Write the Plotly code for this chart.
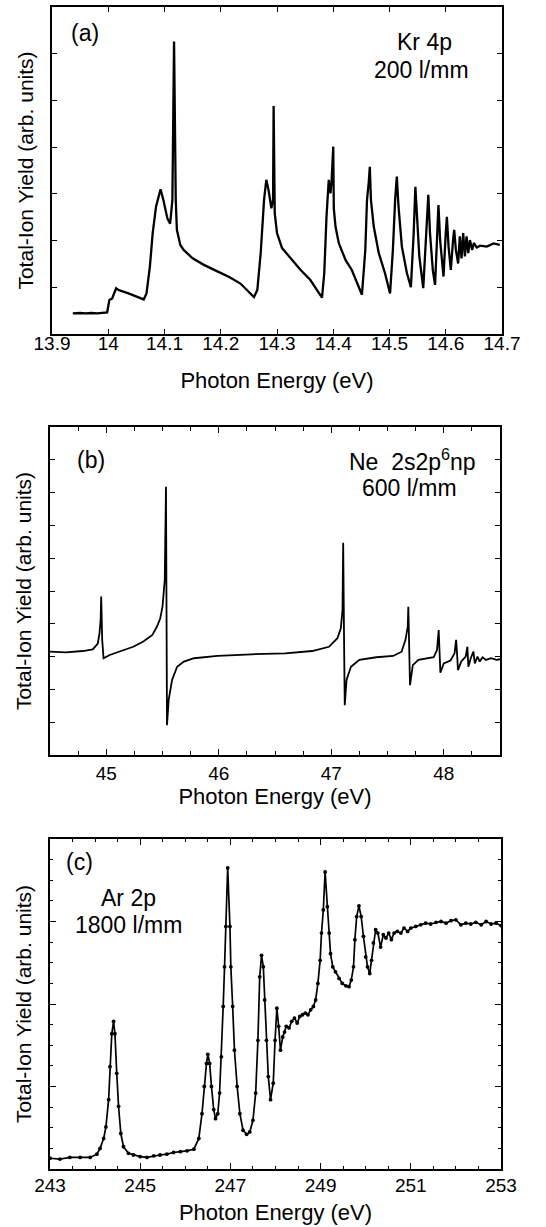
import plotly.graph_objects as go

# ---------------- data ----------------
kr_energy = [13.937, 13.95, 13.96, 13.97, 13.98, 13.99, 13.998,
             14.002, 14.007, 14.014, 14.019, 14.036, 14.053, 14.063,
             14.068, 14.074, 14.079, 14.085, 14.093, 14.098, 14.105, 14.110, 14.114, 14.117, 14.120,
             14.122, 14.128, 14.134, 14.150, 14.170, 14.194, 14.215, 14.235, 14.250, 14.259,
             14.265, 14.271, 14.277, 14.281, 14.285, 14.290, 14.293, 14.294, 14.296, 14.300,
             14.309, 14.324, 14.342, 14.359, 14.374, 14.380,
             14.384, 14.388, 14.392, 14.395, 14.397, 14.400, 14.401, 14.404, 14.410, 14.422,
             14.433, 14.442, 14.451,
             14.457, 14.460, 14.463, 14.465, 14.467, 14.472, 14.481, 14.492, 14.501,
             14.506, 14.510, 14.513, 14.516, 14.522, 14.531, 14.538,
             14.543, 14.546, 14.549, 14.553, 14.560,
             14.565, 14.569, 14.572, 14.577, 14.581,
             14.585, 14.587, 14.590, 14.596,
             14.600, 14.602, 14.605, 14.609,
             14.613, 14.615, 14.618, 14.622,
             14.625, 14.628, 14.631, 14.634, 14.637, 14.640, 14.643, 14.647, 14.650,
             14.655, 14.661, 14.673, 14.685, 14.696]
kr_yield = [0.44, 0.45, 0.44, 0.45, 0.44, 0.45, 0.46,
            0.73, 0.76, 0.98, 0.94, 0.87, 0.78, 0.74,
            0.87, 1.44, 2.16, 2.73, 3.10, 2.87, 2.48, 2.36, 2.87, 6.26, 2.87,
            2.23, 1.91, 1.80, 1.62, 1.48, 1.34, 1.22, 1.08, 0.90, 0.79,
            0.94, 1.73, 2.87, 3.30, 3.08, 2.69, 2.87, 4.88, 2.58, 2.16,
            1.84, 1.62, 1.37, 1.16, 0.87, 0.78,
            1.30, 2.51, 3.30, 3.01, 3.26, 4.01, 2.69, 2.30, 1.94, 1.58,
            1.37, 1.09, 0.84,
            1.80, 2.87, 3.23, 3.58, 2.87, 2.30, 1.73, 1.30, 0.87,
            1.80, 2.87, 3.37, 2.73, 1.87, 1.30, 1.00,
            2.16, 3.15, 2.51, 1.66, 0.98,
            2.16, 2.98, 2.16, 1.37, 1.05,
            2.01, 2.76, 2.01, 1.23,
            2.16, 2.51, 1.87, 1.37,
            2.01, 2.23, 1.80, 1.51,
            2.09, 1.62, 2.16, 1.66, 2.09, 1.73, 2.01, 1.80, 1.95,
            1.85, 1.89, 1.87, 1.94, 1.91]

ne_energy = [44.50, 44.64, 44.79, 44.88, 44.925, 44.94, 44.95, 44.955, 44.964, 44.976,
             45.03, 45.12, 45.24, 45.33, 45.41, 45.45, 45.48, 45.50, 45.52, 45.531,
             45.54, 45.555, 45.585, 45.63, 45.69, 45.78, 45.99, 46.29, 46.59, 46.83,
             46.98, 47.055, 47.085, 47.10, 47.106, 47.115, 47.12, 47.136, 47.175, 47.25,
             47.40, 47.55, 47.625, 47.66, 47.68, 47.685, 47.694, 47.70, 47.725, 47.775,
             47.91, 47.94, 47.955, 47.964, 47.97, 48.00, 48.06, 48.096, 48.11, 48.12,
             48.126, 48.156, 48.195, 48.21, 48.219, 48.24, 48.264, 48.276, 48.30, 48.32,
             48.345, 48.375, 48.42, 48.47, 48.50]
ne_yield = [3.15, 3.13, 3.17, 3.22, 3.40, 3.71, 4.12, 4.83, 3.51, 2.95,
            3.05, 3.15, 3.30, 3.46, 3.66, 3.91, 4.17, 4.52, 5.34, 8.18,
            0.91, 1.68, 2.29, 2.69, 2.85, 2.95, 3.02, 3.07, 3.10, 3.17,
            3.30, 3.56, 3.86, 4.42, 6.47, 3.10, 1.52, 2.29, 2.69, 2.90,
            2.98, 3.02, 3.15, 3.51, 3.91, 4.52, 3.10, 2.13, 2.74, 2.90,
            2.98, 3.20, 3.81, 3.00, 2.51, 2.79, 2.88, 3.10, 3.51, 3.00,
            2.59, 2.85, 3.00, 3.30, 2.69, 2.95, 3.15, 2.79, 3.00, 2.85,
            2.98, 2.90, 2.95, 2.90, 2.92]

ar_energy = [243.00, 243.22, 243.44, 243.67, 243.89, 244.04, 244.11, 244.19, 244.24, 244.30,
             244.33, 244.37, 244.41, 244.44, 244.48, 244.52, 244.57, 244.63, 244.74, 244.85,
             245.00, 245.15, 245.30, 245.44, 245.59, 245.74, 245.89, 246.04, 246.19, 246.30,
             246.37, 246.42, 246.47, 246.50, 246.54, 246.58, 246.63, 246.67, 246.72, 246.76,
             246.80, 246.84, 246.87, 246.90, 246.94, 246.99, 247.01, 247.05, 247.09, 247.15,
             247.21, 247.28, 247.36, 247.43, 247.50, 247.56, 247.61, 247.65, 247.69, 247.73,
             247.76, 247.80, 247.84, 247.89, 247.95, 247.99, 248.03, 248.07, 248.11, 248.16,
             248.20, 248.24, 248.30, 248.36, 248.42, 248.48, 248.54, 248.60, 248.66, 248.72,
             248.78, 248.84, 248.89, 248.94, 248.99, 249.02, 249.06, 249.10, 249.15, 249.19,
             249.22, 249.27, 249.33, 249.41, 249.48, 249.56, 249.63, 249.68, 249.73, 249.76,
             249.80, 249.85, 249.90, 249.95, 250.00, 250.04, 250.09, 250.13, 250.17, 250.22,
             250.27, 250.33, 250.39, 250.45, 250.51, 250.57, 250.63, 250.70, 250.78, 250.85,
             250.93, 251.00, 251.11, 251.22, 251.33, 251.44, 251.56, 251.67, 251.78, 251.89,
             252.00, 252.11, 252.22, 252.33, 252.44, 252.56, 252.67, 252.78, 252.89, 253.00]
ar_yield = [0.13, 0.12, 0.14, 0.14, 0.14, 0.18, 0.25, 0.37, 0.51, 0.84,
            1.24, 1.64, 1.79, 1.64, 1.16, 0.76, 0.43, 0.27, 0.19, 0.17,
            0.15, 0.14, 0.16, 0.17, 0.18, 0.20, 0.21, 0.22, 0.24, 0.37,
            0.67, 1.00, 1.28, 1.39, 1.28, 1.00, 0.72, 0.61, 0.67, 0.92,
            1.36, 1.97, 2.45, 2.94, 3.65, 2.94, 2.45, 1.97, 1.44, 1.00,
            0.67, 0.47, 0.42, 0.45, 0.59, 0.92, 1.56, 2.33, 2.59, 2.45,
            2.05, 1.56, 1.12, 0.84, 1.04, 1.56, 1.95, 1.73, 1.44, 1.60,
            1.66, 1.73, 1.71, 1.79, 1.83, 1.77, 1.85, 1.87, 1.89, 1.87,
            1.93, 1.97, 2.05, 2.25, 2.53, 2.86, 3.14, 3.60, 3.18, 2.86,
            2.61, 2.45, 2.39, 2.31, 2.25, 2.22, 2.21, 2.29, 2.45, 2.78,
            3.06, 3.19, 3.06, 2.82, 2.57, 2.45, 2.37, 2.53, 2.74, 2.90,
            2.86, 2.69, 2.84, 2.80, 2.86, 2.78, 2.86, 2.88, 2.86, 2.92,
            2.88, 2.92, 2.94, 2.96, 2.98, 2.97, 2.99, 3.00, 2.98, 3.01,
            3.02, 2.96, 2.98, 2.97, 2.99, 2.96, 3.00, 2.97, 2.98, 2.95]

# tick values / labels
kr_xticks = [13.9, 14.0, 14.1, 14.2, 14.3, 14.4, 14.5, 14.6, 14.7]
kr_xlabels = ["13.9", "14", "14.1", "14.2", "14.3", "14.4", "14.5", "14.6", "14.7"]
kr_yticks = [1, 2, 3, 4, 5, 6]
ne_xticks = [45, 46, 47, 48]
ne_xlabels = ["45", "46", "47", "48"]
ne_yticks = [1, 2, 3, 4, 5, 6, 7, 8, 9]
ar_xticks = [243, 245, 247, 249, 251, 253]
ar_xlabels = ["243", "245", "247", "249", "251", "253"]
ar_yticks = [1, 2, 3]

# ---------------- layout helpers ----------------
W, H = 546, 1227
FONT = "Liberation Sans, Arial, sans-serif"


def fx(p):
    return p / W


def fy(p):
    return 1 - p / H


axis_common = dict(showline=True, linecolor="black", linewidth=1.5, mirror="allticks",
                   ticks="inside", tickcolor="black", tickwidth=1.3, showgrid=False,
                   zeroline=False, automargin=False,
                   tickfont=dict(size=19, color="black", family=FONT))
xtitle_font = dict(size=22, color="black", family=FONT)
ytitle_font = dict(size=21, color="black", family=FONT)
YTITLE = "Total-Ion Yield (arb. units)"
XTITLE = "Photon Energy (eV)"

fig = go.Figure()
fig.add_trace(go.Scatter(x=kr_energy, y=kr_yield, mode="lines",
                         line=dict(color="black", width=2.3), xaxis="x", yaxis="y",
                         showlegend=False))
fig.add_trace(go.Scatter(x=ne_energy, y=ne_yield, mode="lines",
                         line=dict(color="black", width=1.8), xaxis="x2", yaxis="y2",
                         showlegend=False))
fig.add_trace(go.Scatter(x=ar_energy, y=ar_yield, mode="lines+markers",
                         line=dict(color="black", width=1.7),
                         marker=dict(size=3.8, color="black"), xaxis="x3", yaxis="y3",
                         showlegend=False))

fig.update_layout(
    width=W, height=H, margin=dict(l=0, r=0, t=0, b=0),
    paper_bgcolor="white", plot_bgcolor="white",
    font=dict(family=FONT, color="black"),
    xaxis=dict(axis_common, domain=[fx(52), fx(502)], range=[13.9, 14.7], anchor="y",
               tickmode="array", tickvals=kr_xticks, ticktext=kr_xlabels, ticklen=5,
               ticklabelstandoff=-9,
               title=dict(text=XTITLE, font=xtitle_font, standoff=20)),
    yaxis=dict(axis_common, domain=[fy(334), fy(7)], range=[0, 7], anchor="x",
               tickmode="array", tickvals=kr_yticks, showticklabels=False, ticklen=5,
               title=dict(text=YTITLE, font=ytitle_font, standoff=11)),
    xaxis2=dict(axis_common, domain=[fx(50), fx(500)], range=[44.5, 48.5], anchor="y2",
                tickmode="array", tickvals=ne_xticks, ticktext=ne_xlabels, ticklen=6,
                ticklabelstandoff=0,
                minor=dict(ticks="inside", tickmode="linear", tick0=44.5, dtick=0.25,
                           ticklen=4, tickcolor="black", tickwidth=1.2),
                title=dict(text=XTITLE, font=xtitle_font, standoff=6)),
    yaxis2=dict(axis_common, domain=[fy(755), fy(427)], range=[0, 10], anchor="x2",
                tickmode="array", tickvals=ne_yticks, showticklabels=False, ticklen=5,
                title=dict(text=YTITLE, font=ytitle_font, standoff=11)),
    xaxis3=dict(axis_common, domain=[fx(50), fx(501)], range=[243, 253], anchor="y3",
                tickmode="array", tickvals=ar_xticks, ticktext=ar_xlabels, ticklen=6,
                ticklabelstandoff=-2,
                minor=dict(ticks="inside", tickmode="linear", tick0=243, dtick=0.5,
                           ticklen=3, tickcolor="black", tickwidth=1.2),
                title=dict(text=XTITLE, font=xtitle_font, standoff=10)),
    yaxis3=dict(axis_common, domain=[fy(1169), fy(839)], range=[0, 4], anchor="x3",
                tickmode="array", tickvals=ar_yticks, showticklabels=False, ticklen=6,
                minor=dict(ticks="inside", tickmode="linear", tick0=0, dtick=0.25,
                           ticklen=3, tickcolor="black", tickwidth=1.2),
                title=dict(text=YTITLE, font=ytitle_font, standoff=11)),
)

ann_font = dict(size=23, color="black", family=FONT)
annotations = [
    dict(text="(a)", x=fx(69), y=fy(33), xanchor="left", yanchor="middle"),
    dict(text="Kr 4p", x=fx(424), y=fy(42), xanchor="center", yanchor="middle"),
    dict(text="200 l/mm", x=fx(421), y=fy(70), xanchor="center", yanchor="middle"),
    dict(text="(b)", x=fx(75), y=fy(460), xanchor="left", yanchor="middle"),
    dict(text="Ne  2s2p<sup>6</sup>np", x=fx(412), y=fy(460), xanchor="center", yanchor="middle"),
    dict(text="600 l/mm", x=fx(409), y=fy(488), xanchor="center", yanchor="middle"),
    dict(text="(c)", x=fx(64), y=fy(862), xanchor="left", yanchor="middle"),
    dict(text="Ar 2p", x=fx(128), y=fy(898), xanchor="center", yanchor="middle"),
    dict(text="1800 l/mm", x=fx(128), y=fy(925), xanchor="center", yanchor="middle"),
]
for a in annotations:
    fig.add_annotation(xref="paper", yref="paper", showarrow=False, font=ann_font, **a)

fig.write_html("out.html")
